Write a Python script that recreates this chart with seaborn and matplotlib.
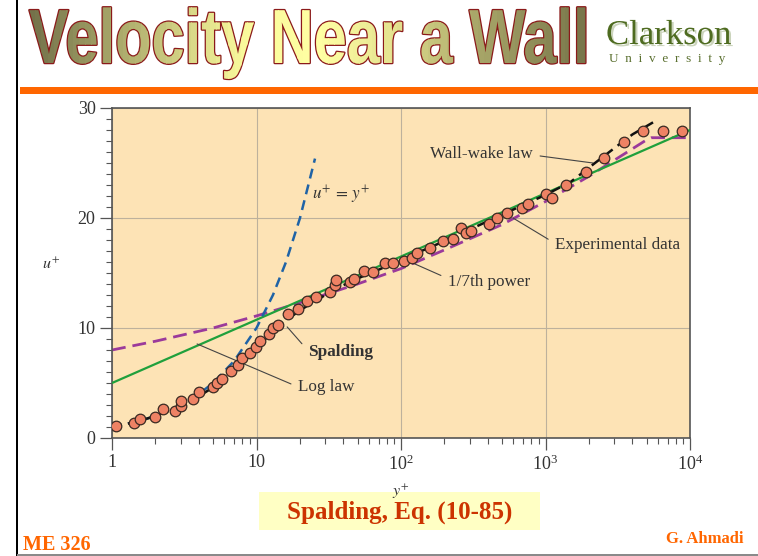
import numpy as np
import matplotlib
matplotlib.use('Agg')
import matplotlib.pyplot as plt
import matplotlib.patheffects as pe
from matplotlib import font_manager
from matplotlib.colors import LinearSegmentedColormap
from matplotlib.transforms import Bbox, Affine2D
from matplotlib.patches import Rectangle
from matplotlib.ticker import FixedLocator, FixedFormatter, LogLocator, MultipleLocator, NullFormatter
import seaborn as sns

sns.set_style('ticks')
plt.rcParams['font.family'] = ['Liberation Serif', 'DejaVu Serif']
plt.rcParams['mathtext.fontset'] = 'stix'

exp_yplus = [1.07, 1.43, 1.56, 1.99, 2.27, 2.73, 3.0, 3.0, 3.65, 3.98, 4.97, 5.3, 5.77,
             6.62, 7.48, 7.98, 9.0, 9.93, 10.6, 12.3, 13.1, 14.0, 16.6, 19.5, 22.4, 25.8,
             32.3, 35.0, 35.5, 44.4, 47.3, 55.5, 64.3, 77.5, 87.5, 105, 120, 130, 159, 196,
             228, 260, 282, 303, 408, 459, 538, 691, 760, 1003, 1104, 1387, 1897, 2552,
             3510, 4750, 6530, 8850]
exp_uplus = [1.09, 1.39, 1.76, 1.88, 2.6, 2.48, 2.9, 3.36, 3.58, 4.18, 4.6, 5.03, 5.33,
             6.12, 6.64, 7.3, 7.7, 8.3, 8.85, 9.5, 10.0, 10.27, 11.27, 11.7, 12.5, 12.8,
             13.3, 13.9, 14.4, 14.15, 14.5, 15.2, 15.06, 15.94, 15.94, 16.1, 16.4, 16.85, 17.25, 17.9,
             18.1, 19.06, 18.66, 18.85, 19.45, 19.97, 20.5, 20.9, 21.3, 22.15, 21.85, 23.0, 24.15, 25.5,
             26.9, 27.9, 27.9, 27.9]

# Spalding / wall-wake curve (black dashed)
spal_yplus = [1, 1.5, 2, 3, 4, 5, 7, 10, 13, 16, 20, 25, 30, 40, 50, 70, 100, 200, 500,
              1000, 1500, 2200, 3100, 4000, 5900]
spal_uplus = [1.0, 1.5, 2.0, 2.9, 3.8, 4.6, 6.1, 8.2, 9.7, 10.7, 11.6, 12.4, 13.0, 13.9, 14.5,
              15.3, 16.2, 17.9, 20.3, 22.1, 23.3, 25.0, 26.5, 27.6, 28.9]

# viscous sublayer u+ = y+
lin_yplus = [1, 1.5, 2, 3, 4, 5, 7, 10, 13, 16, 20, 25.4]
lin_uplus = [1, 1.5, 2, 3, 4, 5, 7, 10, 13, 16, 20, 25.4]

# log law
log_yplus = [1, 10000]
log_uplus = [5.0, 28.0]

# 1/7th power law
pow_yplus = [1, 2, 5, 10, 20, 50, 100, 200, 500, 1000, 2000, 5000, 5400, 10000]
pow_uplus = [8.0, 8.8, 10.0, 11.1, 12.3, 14.0, 15.4, 17.1, 19.4, 21.5, 23.8, 27.1, 27.3, 27.3]

xtick_vals = [1, 10, 100, 1000, 10000]
xtick_labels = ['1', '10', r'$\mathregular{10^2}$', r'$\mathregular{10^3}$', r'$\mathregular{10^4}$']
ytick_vals = [0, 10, 20, 30]


class WordArtFill(pe.AbstractPathEffect):
    # outline + horizontal gradient fill, stretched vertically about the baseline
    def __init__(self, x0, x1, cmap, base, k, edge, edge_lw, n=90):
        super().__init__()
        self.x0, self.x1, self.cmap, self.n = x0, x1, cmap, n
        self.base, self.k, self.edge, self.edge_lw = base, k, edge, edge_lw

    def draw_path(self, renderer, gc, tpath, affine, rgbFace=None):
        aff = affine + Affine2D().translate(0, -self.base).scale(1, self.k).translate(0, self.base)
        gc0 = renderer.new_gc()
        gc0.copy_properties(gc)
        gc0.set_linewidth(self.edge_lw)
        gc0.set_foreground(self.edge)
        renderer.draw_path(gc0, tpath, aff, matplotlib.colors.to_rgba(self.edge))
        gc0.restore()
        step = (self.x1 - self.x0) / self.n
        for i in range(self.n):
            xa = self.x0 + i * step if i > 0 else -1e5
            xb = self.x0 + (i + 1) * step + 0.6 if i < self.n - 1 else 1e5
            gc1 = renderer.new_gc()
            gc1.copy_properties(gc)
            gc1.set_linewidth(0)
            gc1.set_clip_rectangle(Bbox.from_extents(xa, -1e5, xb, 1e5))
            renderer.draw_path(gc1, tpath, aff, self.cmap(i / (self.n - 1)))
            gc1.restore()


W, H = 758, 556
fig = plt.figure(figsize=(W / 100, H / 100), dpi=100)
fig.patch.set_facecolor('white')

# slide decoration layer in pixel coordinates
deco = fig.add_axes([0, 0, 1, 1])
deco.set_xlim(0, W)
deco.set_ylim(H, 0)
deco.axis('off')
deco.set_zorder(0)
deco.add_patch(Rectangle((20, 87), W - 20, 7, color='#FF6600', lw=0))
deco.add_patch(Rectangle((15.5, 0), 2.5, H, color='black', lw=0))
deco.add_patch(Rectangle((17, 554), W - 17, 1.5, color='#8a8a8a', lw=0))
deco.add_patch(Rectangle((259, 492), 281, 38, color='#FFFFC4', lw=0))

names = {f.name for f in font_manager.fontManager.ttflist}
title_fam = 'Liberation Sans Narrow' if 'Liberation Sans Narrow' in names else 'Liberation Sans'
title_cmap = LinearSegmentedColormap.from_list('title', [
    (0.0, '#74724a'), (0.38, '#f9f99b'), (0.52, '#ffffa3'), (0.66, '#e2e08e'),
    (0.78, '#aeac6c'), (1.0, '#77754a')])
title = deco.text(29, 63, 'Velocity Near a Wall', family=title_fam, weight='bold',
                  fontsize=52, ha='left', va='baseline', color='#c8c680')
fig.canvas.draw()
bb = title.get_window_extent()
fs = 52 * 561 / bb.width
title.set_fontsize(fs)
cap_px = 0.716 * fs * 100 / 72
title.set_path_effects([WordArtFill(29, 590, title_cmap, base=H - 63, k=55 / cap_px,
                                    edge='#8B1A1A', edge_lw=1.8)])

deco.text(606, 44, 'Clarkson', fontsize=25, color='#4e6b20', ha='left', va='baseline',
          path_effects=[pe.SimplePatchShadow(offset=(1.5, -1.5), shadow_rgbFace='#a9b890', alpha=0.6),
                        pe.Normal()])
deco.text(609, 62, 'U  n  i  v  e  r  s  i  t  y', fontsize=9.5, color='#5b7030',
          ha='left', va='baseline')

deco.text(399.5, 512, 'Spalding, Eq. (10-85)', fontsize=18, weight='bold', color='#CC3300',
          ha='center', va='center')
deco.text(23, 550, 'ME 326', fontsize=14.5, weight='bold', color='#FF6600', ha='left', va='baseline')
deco.text(666, 543, 'G. Ahmadi', fontsize=12, weight='bold', color='#FF6600', ha='left', va='baseline')

# main chart
ax = fig.add_axes([112 / W, 118 / H, 578 / W, 330 / H])
ax.set_zorder(1)
ax.set_facecolor('#FDE3B5')
ax.set_xscale('log')

sns.lineplot(x=pow_yplus, y=pow_uplus, ax=ax, color='#9b3a9b', lw=2, linestyle=(0, (5, 2.5)),
             errorbar=None, sort=False, zorder=2)
sns.lineplot(x=log_yplus, y=log_uplus, ax=ax, color='#20a03c', lw=1.6, errorbar=None, zorder=3)
sns.lineplot(x=lin_yplus, y=lin_uplus, ax=ax, color='#1f63a6', lw=1.8, linestyle=(0, (4, 2.5)),
             errorbar=None, zorder=3)
sns.lineplot(x=spal_yplus, y=spal_uplus, ax=ax, color='#111111', lw=1.8, linestyle=(0, (4, 2.5)),
             errorbar=None, zorder=4)
sns.scatterplot(x=exp_yplus, y=exp_uplus, ax=ax, s=58, color='#EE8264', edgecolor='#3a2a22',
                linewidth=0.9, zorder=5)

ax.set_xlim(1, 1e4)
ax.set_ylim(0, 30)
ax.xaxis.set_major_locator(FixedLocator(xtick_vals))
ax.xaxis.set_major_formatter(FixedFormatter(xtick_labels))
ax.xaxis.set_minor_locator(LogLocator(base=10, subs=np.arange(2, 10)))
ax.xaxis.set_minor_formatter(NullFormatter())
ax.yaxis.set_major_locator(FixedLocator(ytick_vals))
ax.yaxis.set_minor_locator(MultipleLocator(1))
ax.tick_params(which='major', direction='out', length=8.8, width=0.9, color='#555555',
               labelsize=13, labelcolor='#333333', pad=3)
ax.tick_params(which='minor', direction='out', length=4, width=0.8, color='#555555')
ax.grid(True, which='major', color='#bdb19c', lw=0.8)
ax.grid(False, which='minor')
for s in ax.spines.values():
    s.set_color('#555555')
    s.set_linewidth(1.2)

ax.set_xlabel(r'$y^{+}$', fontsize=11.5, color='#333333')
ax.set_ylabel(r'$u^{+}$', fontsize=11.5, color='#333333', rotation=0)
ax.xaxis.set_label_coords(0.5, -0.135)
ax.yaxis.set_label_coords(-0.105, 0.5)

txt = dict(fontsize=12.3, color='#333333', va='center')
lead = dict(arrowstyle='-', color='#444444', lw=0.8, shrinkA=3, shrinkB=0)
ax.text(24.2, 22.1, r'$u^{+}\,=\,y^{+}$', ha='left', **txt)
ax.annotate('Wall-wake law', xy=(2132, 25.0), xytext=(158.6, 25.8), ha='left',
            arrowprops=dict(relpos=(1, 0.45), **lead), **txt)
ax.annotate('Experimental data', xy=(596, 20.0), xytext=(1164, 17.55), ha='left',
            arrowprops=dict(relpos=(0, 0.6), **lead), **txt)
ax.annotate('1/7th power', xy=(121, 15.9), xytext=(211.5, 14.2), ha='left',
            arrowprops=dict(relpos=(0, 0.7), **lead), **txt)
ax.annotate('Spalding', xy=(16.3, 10.1), xytext=(22.7, 7.8), ha='left', weight='bold',
            arrowprops=dict(relpos=(0, 0.6), **lead), **txt)
ax.annotate('Log law', xy=(3.88, 8.55), xytext=(19.4, 4.64), ha='left',
            arrowprops=dict(relpos=(0, 0.5), **lead), **txt)

fig.savefig('out.png', dpi=100, facecolor='white')
